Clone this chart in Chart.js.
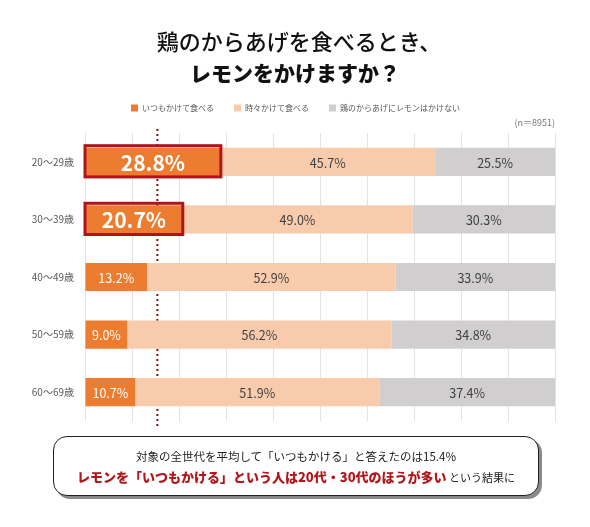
<!DOCTYPE html>
<html lang="ja">
<head>
<meta charset="utf-8">
<script src="https://cdn.jsdelivr.net/npm/chart.js@4.4.1/dist/chart.umd.min.js"></script>
<style>
  body { margin: 0; width: 590px; height: 527px; background: #fff; font-family: "Noto Sans CJK JP", "Noto Sans", sans-serif; overflow: hidden; }
  #wrap { position: relative; width: 590px; height: 527px; }
  #chart { position: absolute; left: 0; top: 0; }
  .title { position: absolute; left: 0; width: 590px; text-align: center; color: #111; }
  #t1 { top: 24px; font-size: 22px; font-weight: 500; padding-left: 4px; }
  #t2 { top: 57px; font-size: 21px; font-weight: 900; padding-right: 16px; }
  #n { position: absolute; right: 35px; top: 116px; font-size: 9px; color: #777; }
  #note { position: absolute; left: 53px; top: 436px; width: 484px; height: 58px; border: 1.5px solid #222; border-radius: 14px; box-shadow: 3px 3px 0 #8a8a8a; background: #fff; text-align: center; }
  #note .l1 { margin-top: 11px; font-size: 11.5px; color: #222; line-height: 16px; }
  #note .l2 { margin-top: 3px; font-size: 11px; color: #222; line-height: 20px; white-space: nowrap; }
  #note .l2 b { font-size: 13px; color: #b0161b; font-weight: 900; }
</style>
</head>
<body>
<div id="wrap">
  <canvas id="chart" width="590" height="527"></canvas>
  <div class="title" id="t1">鶏のからあげを食べるとき、</div>
  <div class="title" id="t2">レモンをかけますか？</div>
  <div id="n">(n＝8951)</div>
  <div id="note">
    <div class="l1">対象の全世代を平均して「いつもかける」と答えたのは15.4%</div>
    <div class="l2"><b>レモンを「いつもかける」という人は20代・30代のほうが多い</b> という結果に</div>
  </div>
</div>
<script>
// --- data ---
const ageGroups = ['20〜29歳', '30〜39歳', '40〜49歳', '50〜59歳', '60〜69歳'];
const seriesNames = ['いつもかけて食べる', '時々かけて食べる', '鶏のからあげにレモンはかけない'];
const alwaysValues = [28.8, 20.7, 13.2, 9.0, 10.7];
const sometimesValues = [45.7, 49.0, 52.9, 56.2, 51.9];
const neverValues = [25.5, 30.3, 33.9, 34.8, 37.4];
const averageAlways = 15.4;
const highlightRows = [0, 1];

const FONT = '"Noto Sans CJK JP", "Noto Sans", sans-serif';
const colors = ['#ec7c30', '#f8cbad', '#d0cece'];
const labelColors = ['#ffffff', '#404040', '#404040'];

// dotted average line, drawn under the bars
const avgLine = {
    id: 'avgLine',
    beforeDatasetsDraw(chart) {
        const { ctx, chartArea, scales } = chart;
        const x = scales.x.getPixelForValue(averageAlways);
        ctx.save();
        ctx.strokeStyle = '#7d1515';
        ctx.lineWidth = 2;
        ctx.setLineDash([2, 3]);
        ctx.beginPath();
        ctx.moveTo(x, chartArea.top - 4);
        ctx.lineTo(x, chartArea.bottom + 5);
        ctx.stroke();
        ctx.restore();
    }
};

// value labels + red frame on highlighted rows
const barLabels = {
    id: 'barLabels',
    afterDatasetsDraw(chart) {
        const ctx = chart.ctx;
        ctx.save();
        const first = chart.getDatasetMeta(0);
        highlightRows.forEach(j => {
            const bar = first.data[j];
            const h = bar.height;
            ctx.strokeStyle = '#b2131b';
            ctx.lineWidth = 3;
            ctx.strokeRect(bar.base - 0.5, bar.y - h / 2 - 2, bar.x - bar.base + 1, h + 3);
        });
        ctx.textAlign = 'center';
        ctx.textBaseline = 'middle';
        chart.data.datasets.forEach((ds, i) => {
            const meta = chart.getDatasetMeta(i);
            meta.data.forEach((bar, j) => {
                const big = i === 0 && highlightRows.includes(j);
                ctx.font = big ? 'bold 21px ' + FONT : '12.5px ' + FONT;
                ctx.fillStyle = labelColors[i];
                ctx.fillText(ds.data[j].toFixed(1) + '%', (bar.x + bar.base) / 2, bar.y + 1);
            });
        });
        ctx.restore();
    }
};

// fix the legend band height and nudge it right, like the original
const legendFix = {
    id: 'legendFix',
    beforeInit(chart) {
        const fit = chart.legend.fit;
        chart.legend.fit = function () {
            fit.call(this);
            this.height = 49;
        };
    },
    afterLayout(chart) {
        chart.legend.left += 18;
        chart.legend.right += 18;
    }
};

new Chart(document.getElementById('chart'), {
    type: 'bar',
    data: {
        labels: ageGroups,
        datasets: [
            { label: seriesNames[0], data: alwaysValues, backgroundColor: colors[0], borderWidth: 0 },
            { label: seriesNames[1], data: sometimesValues, backgroundColor: colors[1], borderWidth: 0 },
            { label: seriesNames[2], data: neverValues, backgroundColor: colors[2], borderWidth: 0 }
        ]
    },
    options: {
        indexAxis: 'y',
        responsive: false,
        animation: false,
        categoryPercentage: 0.49,
        barPercentage: 1,
        layout: { padding: { top: 84, right: 35, bottom: 106, left: 0 } },
        plugins: {
            legend: {
                position: 'top',
                labels: {
                    boxWidth: 7,
                    boxHeight: 7,
                    padding: 20,
                    color: '#595959',
                    font: { family: FONT, size: 8 }
                }
            },
            tooltip: { enabled: false }
        },
        scales: {
            x: {
                stacked: true,
                min: 0,
                max: 100,
                ticks: { display: false, stepSize: 10 },
                grid: { color: '#e3e3e3', lineWidth: 1, drawTicks: false },
                border: { display: false }
            },
            y: {
                stacked: true,
                ticks: { color: '#595959', padding: 11, font: { family: FONT, size: 10 } },
                grid: { display: false, drawTicks: false },
                border: { display: false },
                afterFit(scale) { scale.width = 85; }
            }
        }
    },
    plugins: [avgLine, barLabels, legendFix]
});
</script>
</body>
</html>
